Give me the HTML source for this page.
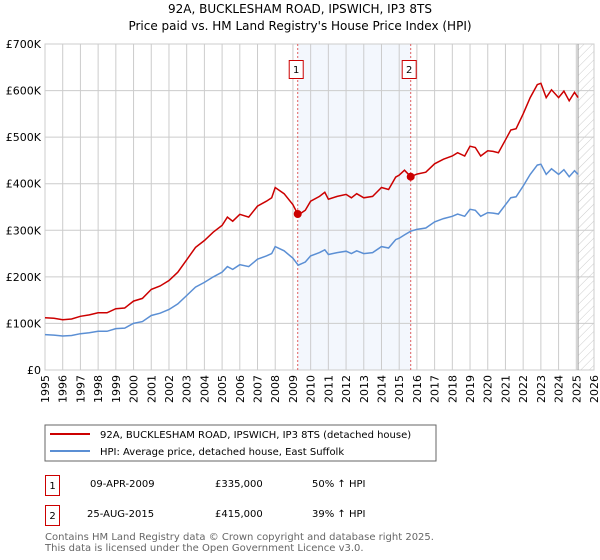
<!DOCTYPE html>
<html><head><meta charset="utf-8"><style>
body{margin:0;background:#fff;font-family:"DejaVu Sans","Liberation Sans",sans-serif;}
svg{display:block}
</style></head><body>
<svg id="c" width="600" height="560" xmlns="http://www.w3.org/2000/svg" font-family="DejaVu Sans, Liberation Sans, sans-serif">
<defs><pattern id="hatch" width="6" height="6" patternUnits="userSpaceOnUse" patternTransform="rotate(45)"><line x1="0" y1="0" x2="0" y2="6" stroke="#ccc" stroke-width="1"/></pattern></defs>
<text x="300" y="13" text-anchor="middle" font-size="12">92A, BUCKLESHAM ROAD, IPSWICH, IP3 8TS</text>
<text x="300" y="30" text-anchor="middle" font-size="12">Price paid vs. HM Land Registry's House Price Index (HPI)</text>
<g id="grid"></g>
<g id="marks"></g>
<g id="legend">
<rect x="45" y="425" width="391" height="36" fill="#fff" stroke="#666"/>
<line x1="50" y1="434" x2="90" y2="434" stroke="#cc0000" stroke-width="2"/>
<text x="100" y="438" font-size="10">92A, BUCKLESHAM ROAD, IPSWICH, IP3 8TS (detached house)</text>
<line x1="50" y1="451" x2="90" y2="451" stroke="#5b8fd4" stroke-width="2"/>
<text x="100" y="455" font-size="10">HPI: Average price, detached house, East Suffolk</text>
</g>
<g font-size="10">
<rect x="45.5" y="475.5" width="14" height="20" fill="#fff" stroke="#cc0000"/>
<text x="52.5" y="489" text-anchor="middle">1</text>
<text x="90" y="487">09-APR-2009</text>
<text x="215" y="487">£335,000</text>
<text x="312" y="487">50% ↑ HPI</text>
<rect x="45.5" y="505.5" width="14" height="20" fill="#fff" stroke="#cc0000"/>
<text x="52.5" y="519" text-anchor="middle">2</text>
<text x="87" y="517">25-AUG-2015</text>
<text x="215" y="517">£415,000</text>
<text x="312" y="517">39% ↑ HPI</text>
</g>
<text x="45" y="540" font-size="10" fill="#666">Contains HM Land Registry data © Crown copyright and database right 2025.</text>
<text x="45" y="551" font-size="10" fill="#666">This data is licensed under the Open Government Licence v3.0.</text>
</svg>
<script>
const hpiYears=[1995,1995.5,1996,1996.5,1997,1997.5,1998,1998.5,1999,1999.5,2000,2000.5,2001,2001.5,2002,2002.5,2003,2003.5,2004,2004.5,2005,2005.3,2005.6,2006,2006.5,2007,2007.5,2007.8,2008,2008.5,2009,2009.3,2009.7,2010,2010.5,2010.8,2011,2011.5,2012,2012.3,2012.6,2013,2013.5,2014,2014.4,2014.8,2015,2015.3,2015.65,2016,2016.5,2017,2017.5,2018,2018.3,2018.7,2019,2019.3,2019.6,2020,2020.3,2020.6,2021,2021.3,2021.6,2022,2022.4,2022.8,2023,2023.3,2023.6,2024,2024.3,2024.6,2024.9,2025.1];
const hpiValues=[76,75,73,74,78,80,83,83,89,90,100,104,117,122,130,142,160,178,188,200,210,222,216,226,222,238,245,250,265,256,240,225,232,245,252,258,248,252,255,250,256,250,252,265,262,280,283,290,298,302,305,318,325,330,335,330,345,343,330,338,337,335,355,370,372,395,420,440,442,420,432,420,430,415,428,420];
const saleYears=[2009.27,2015.65];
const salePrices=[335,415];
const yTicks=[0,100,200,300,400,500,600,700];
const xTicks=[1995,1996,1997,1998,1999,2000,2001,2002,2003,2004,2005,2006,2007,2008,2009,2010,2011,2012,2013,2014,2015,2016,2017,2018,2019,2020,2021,2022,2023,2024,2025,2026];
const X0=45,X1=594,Y0=370,Y1=44;
const xs=y=>X0+(y-1995)/(2026-1995)*(X1-X0);
const ys=v=>Y0-v/700*(Y0-Y1);
const NS='http://www.w3.org/2000/svg';
function mk(t,a,p){const e=document.createElementNS(NS,t);for(const k in a)e.setAttribute(k,a[k]);p.appendChild(e);return e;}
const g=document.getElementById('grid'),m=document.getElementById('marks');
const sh=mk('rect',{x:xs(saleYears[0]),y:Y1,width:xs(saleYears[1])-xs(saleYears[0]),height:Y0-Y1,fill:'#eef3fc',opacity:0.7},g);


const ht=mk('rect',{x:xs(2025.1),y:Y1,width:X1-xs(2025.1),height:Y0-Y1,fill:'url(#hatch)'},g);


yTicks.forEach(v=>{
 const l=mk('line',{x1:X0,x2:X1,y1:ys(v),y2:ys(v),stroke:'#ccc'},g);
 
 
 const t=mk('text',{x:X0-4,y:ys(v)+4,'text-anchor':'end','font-size':11},g);
 
 
 t.textContent=v===0?'£0':'£'+v+'K';
});
xTicks.forEach(yr=>{
 const l=mk('line',{x1:xs(yr),x2:xs(yr),y1:Y1,y2:Y0,stroke:'#ccc'},g);
 
 
 const t=mk('text',{x:0,y:0,'text-anchor':'end','font-size':11,transform:`translate(${xs(yr)+4},${Y0+5}) rotate(-90)`},g);
 
 
 t.textContent=yr;
});
const fr=mk('rect',{x:X0,y:Y1,width:X1-X0,height:Y0-Y1,fill:'none',stroke:'#ccc'},g);


const el=mk('line',{x1:xs(2025.1),x2:xs(2025.1),y1:Y1,y2:Y0,stroke:'#999'},g);


function hpiAt(y){for(let i=1;i<hpiYears.length;i++){if(y<=hpiYears[i]){const f=(y-hpiYears[i-1])/(hpiYears[i]-hpiYears[i-1]);return hpiValues[i-1]+f*(hpiValues[i]-hpiValues[i-1]);}}return hpiValues[hpiValues.length-1];}
const r1=salePrices[0]/hpiAt(saleYears[0]),r2=salePrices[1]/hpiAt(saleYears[1]);
saleYears.forEach((sy,i)=>{
 const l=mk('line',{x1:xs(sy),x2:xs(sy),y1:Y1,y2:Y0,stroke:'#e06060','stroke-dasharray':'2,2'},m);
 
 
 const b=mk('rect',{x:xs(sy)-8.5,y:60.5,width:14,height:18,fill:'#fff',stroke:'#cc0000'},m);
 
 
 const t=mk('text',{x:xs(sy)-1.5,y:73,'text-anchor':'middle','font-size':10},m);
 
 
 t.textContent=String(i+1);
});
const hp=hpiYears.map((y,i)=>xs(y).toFixed(1)+','+ys(hpiValues[i]).toFixed(1)).join(' ');
const hl=mk('polyline',{points:hp,fill:'none',stroke:'#5b8fd4','stroke-width':1.5},m);


const rp=hpiYears.map((y,i)=>{const r=y<saleYears[1]?r1:r2;return xs(y).toFixed(1)+','+ys(hpiValues[i]*r).toFixed(1);});
const pl=mk('polyline',{points:rp.join(' '),fill:'none',stroke:'#cc0000','stroke-width':1.5},m);


saleYears.forEach((sy,i)=>{
 const c=mk('circle',{cx:xs(sy),cy:ys(salePrices[i]),r:4,fill:'#cc0000'},m);
 
 
});
</script>
</body></html>
